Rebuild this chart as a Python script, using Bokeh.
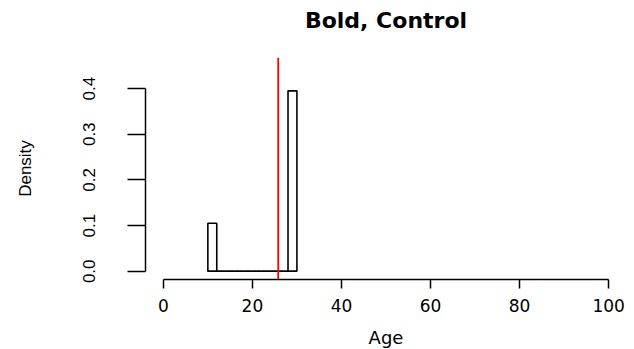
from bokeh.plotting import figure
from bokeh.models import Range1d, Span, FixedTicker, Title
from bokeh.embed import file_html
from bokeh.resources import INLINE

# ---- data ----
bin_edges = [10, 12, 14, 16, 18, 20, 22, 24, 26, 28, 30]
density = [0.105, 0, 0, 0, 0, 0, 0, 0, 0, 0.395]
mean_age = 25.8
x_ticks = [0, 20, 40, 60, 80, 100]
y_ticks = [0.0, 0.1, 0.2, 0.3, 0.4]
y_tick_labels = {0.0: "0.0", 0.1: "0.1", 0.2: "0.2", 0.3: "0.3", 0.4: "0.4"}
title_text = "Bold, Control"
x_label = "Age"
y_label = "Density"

lefts = bin_edges[:-1]
rights = bin_edges[1:]

p = figure(
    frame_width=481, frame_height=222,
    min_border_left=145, min_border_right=8, min_border_top=57, min_border_bottom=70,
    output_backend="svg", toolbar_location=None,
    x_range=Range1d(-4, 104), y_range=Range1d(-0.018, 0.468),
    title=title_text,
)
p.outline_line_color = None
p.grid.visible = False
p.background_fill_color = "white"
p.border_fill_color = "white"

# real title (outer)
p.title.align = "center"
p.title.vertical_align = "bottom"
p.title.standoff = 8
p.title.text_font = "DejaVu Sans"
p.title.text_font_style = "bold"
p.title.text_font_size = "22px"
p.title.text_color = "black"

# tiny spacer placed between the frame and the title
p.add_layout(Title(text=" ", text_font_size="1px", standoff=18), "above")

p.quad(left=lefts, right=rights, bottom=[0] * len(density), top=density,
       fill_color=None, line_color="black", line_width=1.6)
p.segment(x0=lefts, x1=rights, y0=[0] * len(density), y1=[0] * len(density),
          line_color="black", line_width=1.6)

p.add_layout(Span(location=mean_age, dimension="height", line_color="red", line_width=1.8))

xa = p.xaxis[0]
xa.ticker = FixedTicker(ticks=x_ticks)
xa.bounds = (x_ticks[0], x_ticks[-1])
xa.minor_tick_line_color = None
xa.major_tick_in = 0
xa.major_tick_out = 9
xa.major_label_standoff = 10
xa.axis_line_width = 1.5
xa.major_tick_line_width = 1.5
xa.axis_line_color = "black"
xa.major_tick_line_color = "black"
xa.major_label_text_font = "DejaVu Sans"
xa.major_label_text_font_size = "17px"
xa.major_label_text_color = "black"
xa.axis_label = x_label
xa.axis_label_text_font = "DejaVu Sans"
xa.axis_label_text_font_style = "normal"
xa.axis_label_text_font_size = "18px"
xa.axis_label_text_color = "black"
xa.axis_label_standoff = 12

ya = p.yaxis[0]
ya.ticker = FixedTicker(ticks=y_ticks)
ya.major_label_overrides = y_tick_labels
ya.bounds = (y_ticks[0], y_ticks[-1])
ya.minor_tick_line_color = None
ya.major_tick_in = 0
ya.major_tick_out = 18
ya.major_label_standoff = 32
ya.major_label_orientation = "vertical"
ya.axis_line_width = 1.5
ya.major_tick_line_width = 1.5
ya.axis_line_color = "black"
ya.major_tick_line_color = "black"
ya.major_label_text_font = "Liberation Sans"
ya.major_label_text_font_size = "17px"
ya.major_label_text_color = "black"
ya.axis_label = y_label
ya.axis_label_text_font = "Liberation Sans"
ya.axis_label_text_font_style = "normal"
ya.axis_label_text_font_size = "17px"
ya.axis_label_text_color = "black"
ya.axis_label_standoff = 46

open("out.html", "w").write(file_html(p, INLINE))
